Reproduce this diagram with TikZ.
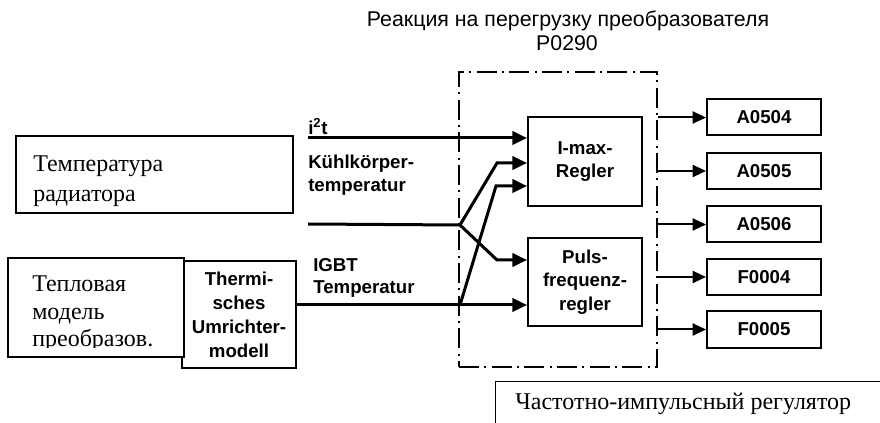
\documentclass[tikz,border=0pt]{standalone}
\usepackage{fontspec}
\setmainfont{Liberation Sans}
\newfontfamily\rmru{Liberation Serif}
\usetikzlibrary{arrows.meta}

\tikzset{
  blk/.style={draw, line width=1.5pt, inner sep=0pt, align=center,
    font=\bfseries\fontsize{14}{17.5}\selectfont},
  outblk/.style={blk, minimum width=85.5pt, minimum height=27pt},
  rubox/.style={draw, line width=1.1pt, fill=white, inner sep=0pt},
  rutxt/.style={font=\rmru\fontsize{18}{22}\selectfont, align=left, inner sep=0pt},
  lbl/.style={font=\bfseries\fontsize{14}{17}\selectfont, align=left, inner sep=0pt},
  sig/.style={line width=2.25pt, -{Triangle[length=11pt,width=10pt]}},
  outsig/.style={line width=1.5pt, -{Triangle[length=10pt,width=9pt]}},
}

\begin{document}
\begin{tikzpicture}[x=0.75pt,y=0.75pt,yscale=-1,xscale=1]
\useasboundingbox (0,0) rectangle (880,423);
\clip (0,0) rectangle (880,423);

% Title
\node[font=\fontsize{16}{18}\selectfont, inner sep=0pt] (title) at (568,21) {Реакция на перегрузку преобразователя};
\node[font=\fontsize{16}{18}\selectfont, inner sep=0pt] (p0290) at (567,43) {P0290};

% Frame
\node[draw, line width=1.5pt, dash pattern={on 15pt off 4pt on 1.5pt off 4pt}, minimum width=148.5pt, minimum height=221.25pt, inner sep=0pt] (frame) at (558,219.5) {};

% Controllers
\node[blk, minimum width=85.5pt, minimum height=66.75pt] (imax) at (585,161.5) {I-max-\\Regler};
\node[blk, minimum width=85.5pt, minimum height=66pt] (puls) at (585,282) {Puls-\\frequenz-\\regler};

% Outputs
\node[outblk] (a0504) at (764,117.5) {A0504};
\node[outblk] (a0505) at (764,171) {A0505};
\node[outblk] (a0506) at (764,224.5) {A0506};
\node[outblk] (f0004) at (764,277) {F0004};
\node[outblk] (f0005) at (764,329.5) {F0005};
\foreach \o in {a0504,a0505,a0506,f0004,f0005}
  \draw[outsig] (frame.east |- \o) -- (\o);

% Thermal model
\node[blk, minimum width=85.5pt, minimum height=80.25pt, font=\bfseries\fontsize{14}{18}\selectfont] (therm) at (239,314.5) {Thermi-\\sches\\Umrichter-\\modell};
\node[rubox, minimum width=132pt, minimum height=74.25pt] (modelbox) at (96,307.5) {};
\begin{scope}
  \clip (10,260) rectangle (182,347);
  \node[rutxt, anchor=north west, font=\rmru\fontsize{18}{20.5}\selectfont] (modeltxt) at (32,276) {Тепловая\\модель\\преобразов.};
\end{scope}

% Heat sink
\node[rubox, minimum width=207.75pt, minimum height=57.75pt] (tempbox) at (154.5,174.5) {};
\node[rutxt, anchor=north west] (temptxt) at (33,156) {Температура\\радиатора};

% Pulse frequency box
\node[rubox, anchor=north west, minimum width=300pt, minimum height=40pt] (chastbox) at (495,381) {};
\node[rutxt, anchor=west] (chasttxt) at (515,404) {Частотно-импульсный регулятор};

% Input labels
\node[lbl, anchor=south west] (i2t) at (308,135) {i\textsuperscript{2}t};
\node[lbl, anchor=north west] (kuehl) at (308,155) {Kühlkörper-\\temperatur};
\node[lbl, anchor=north west] (igbt) at (313,258) {IGBT\\Temperatur};

% Connectors
\coordinate (i0) at (308,138);
\coordinate (m0) at (308,224);
\coordinate (j1) at (460,225);
\coordinate (j2) at (460,305);
\coordinate (k1) at (497,163);
\coordinate (k2) at (496,186);
\coordinate (k3) at (497,260);
\draw[sig] (i0) -- (i0 -| imax.west);
\draw[sig] (m0) -- (j1) -- (k1) -- (k1 -| imax.west);
\draw[sig] (j1) -- (k3) -- (k3 -| puls.west);
\draw[sig] (therm.east |- j2) -- (j2 -| puls.west);
\draw[sig] (j2) -- (k2) -- (k2 -| imax.west);
\end{tikzpicture}
\end{document}
